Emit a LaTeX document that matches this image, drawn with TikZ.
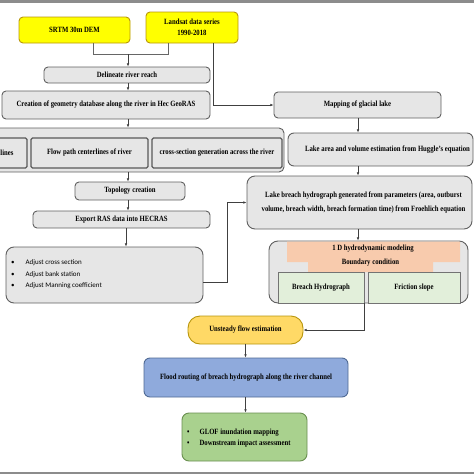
\documentclass[tikz,border=0pt]{standalone}
\usepackage{fontspec}
\setmainfont{Liberation Serif}[FakeStretch=0.84]
\newfontfamily\calib{Carlito}
\usetikzlibrary{arrows.meta,calc}
\definecolor{yel}{HTML}{FFFF00}
\definecolor{yelbd}{HTML}{B8960C}
\definecolor{gfill}{HTML}{E6E6E6}
\definecolor{gbd}{HTML}{606060}
\definecolor{salmon}{HTML}{F8CBAD}
\definecolor{pgreen}{HTML}{E2EFDA}
\definecolor{orng}{HTML}{FFD966}
\definecolor{blu}{HTML}{8FAADC}
\definecolor{blubd}{HTML}{4F6A94}
\definecolor{grn}{HTML}{A9D18E}
\definecolor{grnbd}{HTML}{6A8F50}
\definecolor{barc}{HTML}{8C8C8C}
\tikzset{
  txt/.style={font=\bfseries\fontsize{8}{11}\selectfont, align=center, inner sep=0pt},
  box/.style={txt, draw=gbd, fill=gfill, rounded corners=4pt, line width=0.9pt},
  yelbox/.style={box, fill=yel, draw=yelbd},
  inbox/.style={box, rounded corners=1.5pt, line width=1.1pt, draw=black!65},
  grbox/.style={box, rounded corners=0pt, fill=pgreen, draw=black!55, line width=0.8pt},
  arr/.style={-{Latex[length=3.2pt,width=2.6pt]}, line width=0.6pt, draw=black!75},
  conn/.style={line width=0.6pt, draw=black!60},
}
\begin{document}
\begin{tikzpicture}[x=1pt,y=-1pt]
\useasboundingbox (0,0) rectangle (474,474);
\fill[barc] (0,0) rectangle (474,2.5);
\fill[barc] (0,471.5) rectangle (474,474);

\node[yelbox, minimum width=111pt, minimum height=26pt] (srtm) at (74.5,30) {SRTM 30m DEM};
\node[yelbox, minimum width=92pt, minimum height=31pt, font=\bfseries\fontsize{8}{10.5}\selectfont] (landsat) at (192,27.5) {Landsat data series\\1990-2018};
\node[box, minimum width=166pt, minimum height=16pt] (delin) at (127,75) {Delineate river reach};
\node[box, minimum width=208pt, minimum height=28pt] (creation) at (106,105) {Creation of geometry database along the river in Hec GeoRAS};
\node[box, minimum width=167pt, minimum height=26pt] (mapping) at (357.5,105) {Mapping of glacial lake};

\node[box, rounded corners=5pt, minimum width=294pt, minimum height=44pt] (rowc) at (137,150) {};
\node[inbox, minimum width=37pt, minimum height=30pt] (linesbox) at (8.5,153) {};
\node[txt] (lineslbl) at (7,153) {lines};
\node[inbox, minimum width=117pt, minimum height=30pt] (flow) at (89.5,153) {Flow path centerlines of river};
\node[inbox, minimum width=130pt, minimum height=30pt] (cross) at (217,153) {cross-section generation across the river};

\node[box, minimum width=110pt, minimum height=18pt] (topo) at (130,191) {Topology creation};
\node[box, minimum width=177pt, minimum height=17pt] (export) at (121.5,219.5) {Export RAS data into HECRAS};
\node[box, rounded corners=8pt, minimum width=197pt, minimum height=56pt] (adjust) at (104.5,275) {};
\node[anchor=west, inner sep=0pt, align=left, font=\calib\fontsize{7}{11.5}\selectfont] (adjtxt) at (11,274.5)
  {\textbullet\hspace{11pt}Adjust cross section\\\textbullet\hspace{11pt}Adjust bank station\\\textbullet\hspace{11pt}Adjust Manning coefficient};

\node[box, rounded corners=6pt, minimum width=185pt, minimum height=33pt] (lakearea) at (380.5,149.5) {\hspace*{14pt}Lake area and volume estimation from Huggle's equation};
\node[box, rounded corners=8pt, minimum width=225pt, minimum height=53pt, font=\bfseries\fontsize{8}{14}\selectfont] (lakebreach) at (359.5,202.5)
  {\hspace*{8pt}Lake breach hydrograph generated from parameters (area, outburst\\\hspace*{8pt}volume, breach width, breach formation time) from Froehlich equation};

\node[box, rounded corners=9pt, minimum width=199pt, minimum height=62pt] (onedc) at (368.5,272) {};
\fill[salmon] (287,241.5) -- (460,241.5) -- (460,262) -- (433,262) -- (433,272) -- (308,272) -- (308,262) -- (287,262) -- cycle;
\node[txt] (oned) at (373,249) {1 D hydrodynamic modeling};
\node[txt] (bcond) at (370.5,263) {Boundary condition};
\node[grbox, minimum width=86pt, minimum height=31pt] (breach) at (321,287.5) {Breach Hydrograph};
\node[grbox, minimum width=92pt, minimum height=31pt] (friction) at (414,287.5) {Friction slope};

\node[box, fill=orng, draw=yelbd, rounded corners=12pt, minimum width=115pt, minimum height=28pt] (unsteady) at (245.5,330) {Unsteady flow estimation};
\node[box, fill=blu, draw=blubd, rounded corners=6pt, minimum width=204pt, minimum height=39pt] (flood) at (246,377.5) {Flood routing of breach hydrograph along the river channel};
\node[box, fill=grn, draw=grnbd, rounded corners=7pt, minimum width=125pt, minimum height=48pt] (glof) at (244.5,437) {};
\node[txt, anchor=west, align=left] (gloftxt) at (187,438.5)
  {\textbullet\hspace{10pt}GLOF inundation mapping\\\textbullet\hspace{10pt}Downstream impact assessment};

% connectors
\coordinate (j1) at (128,54);
\draw[conn] ([xshift=18.5pt]srtm.south) |- ([xshift=-24pt]landsat.south |- j1) -- ([xshift=-24pt]landsat.south);
\draw[arr] (j1) -- (j1 |- delin.north);
\draw[arr] (delin.south -| j1) -- (creation.north -| j1);
\draw[arr] ([xshift=21pt]landsat.south) |- (mapping.west);
\draw[arr] (creation.south -| j1) -- (rowc.north -| j1);
\draw[arr] (rowc.south -| j1) -- (topo.north -| j1);
\draw[arr] (topo.south -| j1) -- (export.north -| j1);
\coordinate (j2) at (126,0);
\draw[arr] (export.south -| j2) -- (adjust.north -| j2);
\coordinate (k) at (227,282);
\draw[arr] (adjust.east |- k) -- (k) |- (lakebreach.west);
\coordinate (m) at (358,0);
\draw[arr] (mapping.south -| m) -- (lakearea.north -| m);
\draw[arr] (lakearea.south -| m) -- (lakebreach.north -| m);
\draw[arr] (lakebreach.south -| m) -- (onedc.north -| m);
\draw[arr] (breach.south east) |- (unsteady.east);
\draw[arr] (unsteady.south) -- (unsteady.south |- flood.north);
\draw[arr] (flood.south -| unsteady.south) -- (glof.north -| unsteady.south);
\end{tikzpicture}
\end{document}
